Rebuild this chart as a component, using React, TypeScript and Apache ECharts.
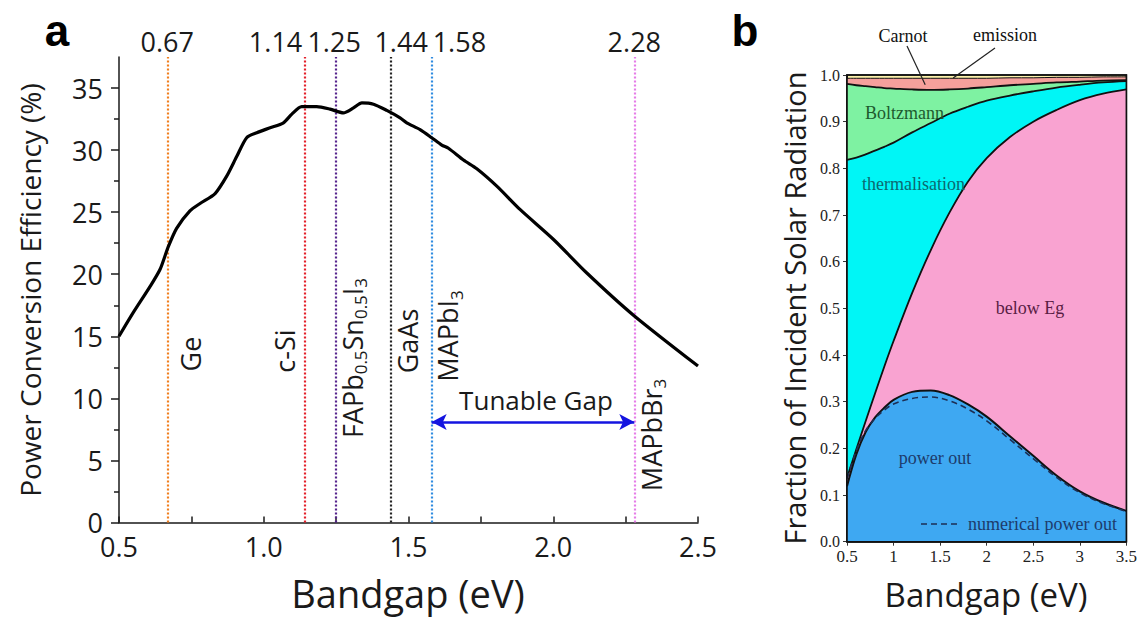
import React, { useEffect, useRef } from "react";
import * as echarts from "echarts";

// ---------- Panel a: efficiency limit versus bandgap ----------
const gapA = [
  0.5, 0.549, 0.607, 0.642, 0.67, 0.699, 0.745, 0.78, 0.832, 0.872, 0.907, 0.941, 0.976,
  1.022, 1.068, 1.097, 1.131, 1.183, 1.229, 1.275, 1.31, 1.339, 1.379, 1.425, 1.471, 1.494,
  1.54, 1.58, 1.615, 1.638, 1.69, 1.736, 1.805, 1.886, 2.001, 2.116, 2.277, 2.5,
];
const efficiency = [
  15.0, 16.9, 19.0, 20.4, 22.2, 23.7, 25.1, 25.7, 26.5, 27.9, 29.5, 31.0, 31.4,
  31.8, 32.2, 32.9, 33.5, 33.5, 33.3, 33.0, 33.4, 33.8, 33.7, 33.2, 32.6, 32.2,
  31.65, 31.0, 30.4, 30.15, 29.2, 28.5, 27.1, 25.2, 22.8, 20.1, 16.7, 12.6,
];

const markerGaps = [0.67, 1.14, 1.25, 1.44, 1.58, 2.28];
const markerNames = ["Ge", "c-Si", "FAPb{s|0.5}Sn{s|0.5}I{s|3}", "GaAs", "MAPbI{s|3}", "MAPbBr{s|3}"];
const tunableGap = [1.58, 2.28];
const tunableLevel = 8.1;
const tunableText = "Tunable Gap";

const effTicks = [0, 5, 10, 15, 20, 25, 30, 35];
const effMinorTicks = [2.5, 7.5, 12.5, 17.5, 22.5, 27.5, 32.5];

// ---------- Panel b: where the incident solar energy goes ----------
const gapB = [0.5, 0.6, 0.7, 0.8, 0.9, 1.0, 1.2, 1.4, 1.6, 1.8, 2.0, 2.25, 2.5, 2.75, 3.0, 3.25, 3.5];
const powerOut = [0.119, 0.187, 0.235, 0.266, 0.287, 0.304, 0.321, 0.324, 0.314, 0.294, 0.268, 0.226, 0.184, 0.142, 0.108, 0.084, 0.066];
const numericalPowerOut = [0.135, 0.195, 0.238, 0.264, 0.282, 0.295, 0.307, 0.31, 0.302, 0.284, 0.259, 0.219, 0.178, 0.138, 0.105, 0.082, 0.065];
const belowEgTop = [0.137, 0.198, 0.258, 0.317, 0.375, 0.43, 0.533, 0.625, 0.705, 0.772, 0.822, 0.867, 0.9, 0.925, 0.946, 0.96, 0.969];
const thermalisationTop = [0.818, 0.823, 0.83, 0.838, 0.846, 0.855, 0.877, 0.897, 0.917, 0.932, 0.945, 0.956, 0.965, 0.973, 0.979, 0.984, 0.987];
const boltzmannTop = [0.981, 0.978, 0.976, 0.974, 0.972, 0.971, 0.969, 0.968, 0.969, 0.971, 0.974, 0.978, 0.981, 0.984, 0.986, 0.988, 0.989];
const carnotTop = [0.993, 0.993, 0.993, 0.993, 0.993, 0.993, 0.993, 0.993, 0.993, 0.993, 0.993, 0.994, 0.994, 0.995, 0.995, 0.996, 0.996];

// ---------- styling ----------
const INK = "#1a1a1a";
const SANS = "'Open Sans', 'Noto Sans', sans-serif";
const SERIF = "'Liberation Serif', 'DejaVu Serif', serif";
const markerColors = ["#f07f1e", "#e3202b", "#55238c", "#222222", "#2f8be0", "#e57de8"];
const layer = {
  emission: "#fdf3ac",
  carnot: "#f5a09c",
  boltzmann: "#7ef2a2",
  thermalisation: "#00f6f6",
  belowEg: "#f9a3d1",
  powerOut: "#3ea8f2",
};
// label placement relative to each marker line (px)
const valueLabelPlace: [string, number][] = [
  ["center", -1], ["right", -2], ["center", -2], ["center", 10], ["left", 1], ["center", 0],
];
const nameOffsetX = [22, -20, 16, 16, 16, 17];
const nameCenterY = [354, 351, 358, 341, 336, 435];

const pairs = (xs: number[], ys: number[]) => xs.map((x, i) => [x, ys[i]]);

function area(ys: number[], color: string, lineWidth = 1.8) {
  return {
    type: "line",
    xAxisIndex: 1,
    yAxisIndex: 2,
    data: pairs(gapB, ys),
    smooth: 0.35,
    symbol: "none",
    silent: true,
    z: 2,
    lineStyle: { color: "#111", width: lineWidth },
    areaStyle: { color, opacity: 1 },
  };
}

function buildOption(): any {
  const axisInk = { color: INK, width: 1.5 };
  return {
    animation: false,
    backgroundColor: "#ffffff",
    textStyle: { fontFamily: SANS },
    grid: [
      { left: 119, top: 57, width: 579, height: 465.5 },
      { left: 847, top: 75, width: 280, height: 466.7, show: true, backgroundColor: layer.emission, borderColor: "#111", borderWidth: 1.5 },
    ],
    xAxis: [
      {
        gridIndex: 0, type: "value", min: 0.5, max: 2.5, interval: 0.5,
        axisLine: { show: true, onZero: false, lineStyle: axisInk },
        axisTick: { show: true, inside: true, length: 6, lineStyle: axisInk },
        minorTick: { show: true, splitNumber: 2, length: 6, lineStyle: axisInk },
        splitLine: { show: false },
        axisLabel: { fontSize: 27, color: INK, margin: 10, fontFamily: SANS, formatter: (v: number) => v.toFixed(1) },
      },
      {
        gridIndex: 1, type: "value", min: 0.5, max: 3.5, interval: 0.5,
        axisLine: { show: true, onZero: false, lineStyle: { color: "#111", width: 1.5 } },
        axisTick: { show: true, length: 4, lineStyle: { color: "#333", width: 1 } },
        splitLine: { show: false },
        axisLabel: { fontSize: 17, color: "#222", margin: 6, fontFamily: SERIF },
      },
    ],
    yAxis: [
      {
        gridIndex: 0, type: "value", min: 0, max: 37.5, interval: 5, position: "left",
        axisLine: { show: true, onZero: false, lineStyle: axisInk },
        axisTick: { show: true, length: 8, lineStyle: axisInk, customValues: effTicks },
        splitLine: { show: false },
        axisLabel: {
          fontSize: 27, color: INK, margin: 16, fontFamily: SANS, customValues: effTicks,
          formatter: (v: number) => (v % 5 === 0 && v <= 35 ? String(v) : ""),
        },
      },
      {
        gridIndex: 0, type: "value", min: 0, max: 37.5, interval: 2.5, position: "left",
        axisLine: { show: false },
        axisTick: { show: true, length: 5, lineStyle: axisInk, customValues: effMinorTicks },
        axisLabel: { show: false },
        splitLine: { show: false },
      },
      {
        gridIndex: 1, type: "value", min: 0, max: 1, interval: 0.1,
        axisLine: { show: true, onZero: false, lineStyle: { color: "#111", width: 1.5 } },
        axisTick: { show: true, length: 4, lineStyle: { color: "#333", width: 1 } },
        splitLine: { show: false },
        axisLabel: { fontSize: 16, color: "#222", margin: 7, fontFamily: SERIF, formatter: (v: number) => v.toFixed(1) },
      },
    ],
    series: [
      {
        type: "line",
        name: "efficiency",
        xAxisIndex: 0,
        yAxisIndex: 0,
        data: pairs(gapA, efficiency),
        smooth: 0.25,
        symbol: "none",
        silent: true,
        z: 8,
        lineStyle: { color: "#000", width: 3.2 },
        markLine: {
          silent: true,
          symbol: "none",
          z: 4,
          label: { show: false },
          data: [
            ...markerGaps.map((g, i) => ({
              xAxis: g,
              lineStyle: { color: markerColors[i], type: [2, 2], width: 2.2 },
            })),
            [
              { coord: [tunableGap[0], tunableLevel], symbol: "arrow", symbolSize: [12, 15], lineStyle: { color: "#1414e0", width: 2.5, type: "solid" } },
              { coord: [tunableGap[1], tunableLevel], symbol: "arrow", symbolSize: [12, 15], lineStyle: { color: "#1414e0", width: 2.5, type: "solid" } },
            ],
          ],
        },
      },
      area(carnotTop, layer.carnot, 1),
      area(boltzmannTop, layer.boltzmann),
      area(thermalisationTop, layer.thermalisation),
      area(belowEgTop, layer.belowEg),
      area(powerOut, layer.powerOut, 2),
      {
        type: "line",
        name: "numerical power out",
        xAxisIndex: 1,
        yAxisIndex: 2,
        data: pairs(gapB, numericalPowerOut),
        smooth: 0.35,
        symbol: "none",
        silent: true,
        z: 3,
        lineStyle: { color: "#1d2f55", width: 1.6, type: [6, 4] },
      },
    ],
  };
}

function txt(x: number, y: number, text: string, o: any = {}) {
  const { rotation, z, ...style } = o;
  return {
    type: "text",
    x,
    y,
    rotation: rotation || 0,
    silent: true,
    z: z ?? 60,
    style: {
      text,
      fill: INK,
      fontFamily: SANS,
      fontSize: 26,
      align: "center",
      textAlign: style.align || "center",
      verticalAlign: "middle",
      textVerticalAlign: "middle",
      ...style,
    },
  };
}

function buildGraphics(chart: echarts.ECharts): any[] {
  const toA = (x: number, y: number) => chart.convertToPixel({ gridIndex: 0 }, [x, y]) as number[];
  const toB = (x: number, y: number) => chart.convertToPixel({ gridIndex: 1 }, [x, y]) as number[];
  const g: any[] = [];

  // panel letters
  g.push(txt(57, 30, "a", { fontFamily: "'Liberation Sans', Arial, sans-serif", fontWeight: "bold", fontSize: 44, fill: "#000" }));
  g.push(txt(745, 30, "b", { fontFamily: "'Liberation Sans', Arial, sans-serif", fontWeight: "bold", fontSize: 44, fill: "#000" }));

  // panel a axis titles
  g.push(txt(30, 290, "Power Conversion Efficiency (%)", { fontSize: 28, rotation: Math.PI / 2 }));
  g.push(txt(408, 593, "Bandgap (eV)", { fontSize: 38, lineHeight: 40 }));

  // marker values above the plot and material names beside the lines
  markerGaps.forEach((gap, i) => {
    const [lx, top] = toA(gap, 37.5);
    const [align, dx] = valueLabelPlace[i];
    g.push(txt(lx + dx, top - 16, gap.toFixed(2), { fontSize: 27, align, textAlign: align }));
    g.push(
      txt(lx + nameOffsetX[i], nameCenterY[i], markerNames[i], {
        fontSize: 27,
        lineHeight: 34,
        rotation: Math.PI / 2,
        rich: { s: { fontSize: 17, lineHeight: 17, verticalAlign: "bottom", fontFamily: SANS } },
      })
    );
  });

  // tunable range caption
  const [ax1, ay] = toA(tunableGap[0], tunableLevel);
  const [ax2] = toA(tunableGap[1], tunableLevel);
  g.push(txt((ax1 + ax2) / 2 + 3, ay - 22, tunableText, { fontSize: 26 }));

  // panel b frame drawn over the filled layers
  const [bx0, by0] = toB(0.5, 1);
  const [bx1, by1] = toB(3.5, 0);
  g.push({
    type: "rect",
    silent: true,
    z: 40,
    shape: { x: bx0, y: by0, width: bx1 - bx0, height: by1 - by0 },
    style: { fill: "none", stroke: "#111", lineWidth: 1.6 },
  });

  // panel b axis titles
  g.push(txt(794, 308, "Fraction of Incident Solar Radiation", { fontSize: 29, rotation: Math.PI / 2 }));
  g.push(txt(986, 594, "Bandgap (eV)", { fontSize: 33, lineHeight: 36 }));

  // layer names
  const serif = (x: number, y: number, t: string, fill: string, align = "center") =>
    txt(x, y, t, { fontFamily: SERIF, fontSize: 18, fill, align, textAlign: align });
  g.push(serif(903, 36, "Carnot", "#111"));
  g.push(serif(1005, 35, "emission", "#111"));
  const carnotTip = toB(1.34, 0.979);
  const emissionTip = toB(1.64, 0.9935);
  g.push({ type: "line", silent: true, z: 45, shape: { x1: 907, y1: 46, x2: carnotTip[0], y2: carnotTip[1] }, style: { stroke: "#222", lineWidth: 1.2 } });
  g.push({ type: "line", silent: true, z: 45, shape: { x1: 995, y1: 48, x2: emissionTip[0], y2: emissionTip[1] }, style: { stroke: "#222", lineWidth: 1.2 } });
  g.push(serif(865, 113, "Boltzmann", "#1d5a2e", "left"));
  g.push(serif(862, 184, "thermalisation", "#0c6a70", "left"));
  g.push(serif(1030, 308, "below Eg", "#5a1d45"));
  g.push(serif(935, 458, "power out", "#1d3b6b"));

  // dashed legend entry
  g.push({
    type: "line",
    silent: true,
    z: 45,
    shape: { x1: 921, y1: 524, x2: 961, y2: 524 },
    style: { stroke: "#1d2f55", lineWidth: 1.6, lineDash: [6, 4] },
  });
  g.push(serif(968, 524, "numerical power out", "#1d3b6b", "left"));

  return g;
}

export default function App() {
  const ref = useRef<HTMLDivElement>(null);
  useEffect(() => {
    const el = ref.current;
    if (!el) return;
    const chart = echarts.init(el, null, { renderer: "svg" });
    chart.setOption(buildOption());
    chart.setOption({ graphic: buildGraphics(chart) });
    return () => chart.dispose();
  }, []);
  return (
    <div
      ref={ref}
      style={{ position: "fixed", left: 0, top: 0, width: 1140, height: 618, background: "#fff" }}
    />
  );
}
